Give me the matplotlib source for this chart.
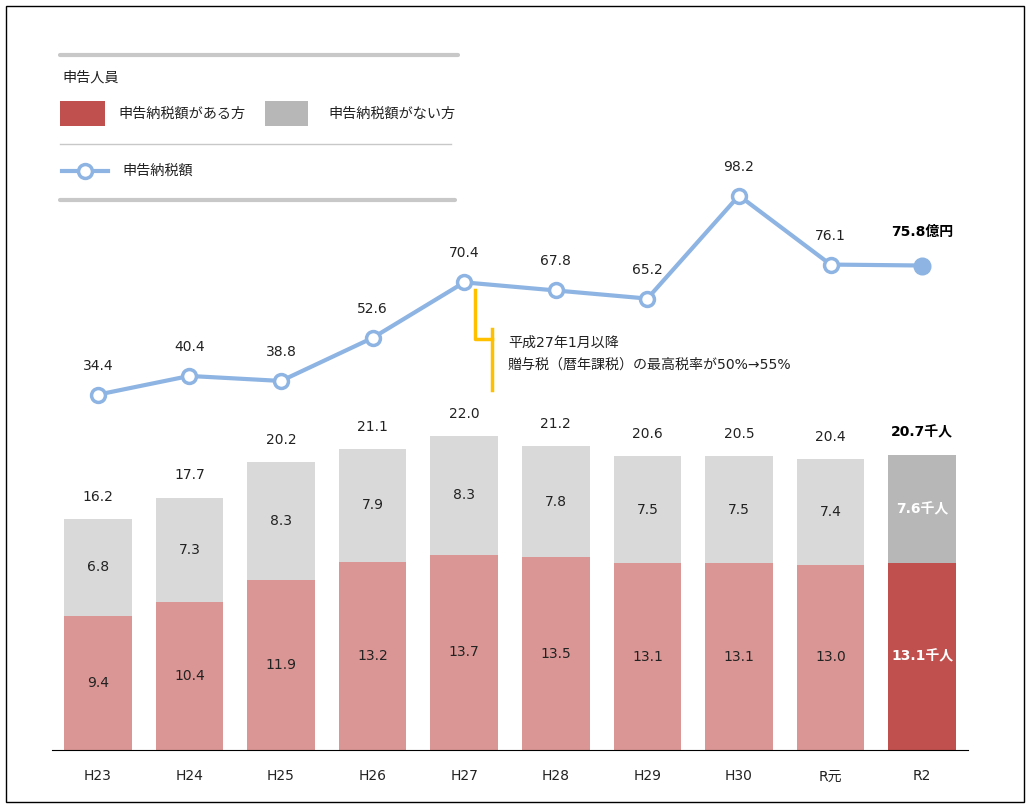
import matplotlib
matplotlib.use("Agg")
import matplotlib.pyplot as plt
from matplotlib.lines import Line2D
from matplotlib.patches import Rectangle
import numpy as np

# DejaVu for latin/digits (Verdana-like), CJK fallback for Japanese
plt.rcParams['font.family'] = ['DejaVu Sans', 'Noto Sans CJK JP']

# --- data -------------------------------------------------------------
years = ["H23", "H24", "H25", "H26", "H27", "H28", "H29", "H30", "R元", "R2"]
with_tax = [9.4, 10.4, 11.9, 13.2, 13.7, 13.5, 13.1, 13.1, 13.0, 13.1]
without_tax = [6.8, 7.3, 8.3, 7.9, 8.3, 7.8, 7.5, 7.5, 7.4, 7.6]
totals = [16.2, 17.7, 20.2, 21.1, 22.0, 21.2, 20.6, 20.5, 20.4, 20.7]
tax_amount = [34.4, 40.4, 38.8, 52.6, 70.4, 67.8, 65.2, 98.2, 76.1, 75.8]

RED_LIGHT = "#D99694"
RED = "#C0504D"
GRAY_LIGHT = "#D9D9D9"
GRAY = "#B7B7B7"
BLUE = "#8DB4E2"
YELLOW = "#FFC000"
TXT = "#222222"

W, H = 1030, 809
fig = plt.figure(figsize=(W / 100, H / 100), dpi=100)


def px(x, y):
    # pixel (from top-left) -> figure fraction
    return x / W, 1 - y / H


# outer frame
fig.add_artist(Rectangle(px(6, 802), 1018 / W, 796 / H, transform=fig.transFigure,
                         fill=False, edgecolor="black", linewidth=1))

# bar axes: x from 52 to 968 px, baseline 750 px, top 40 px
left, bottom = px(52, 750)
ax = fig.add_axes([left, bottom, (968 - 52) / W, (750 - 40) / H])
x = np.arange(len(years))
n = len(years)
c_with = [RED_LIGHT] * (n - 1) + [RED]
c_without = [GRAY_LIGHT] * (n - 1) + [GRAY]
wt = np.array(with_tax)
wo = np.array(without_tax)
ax.bar(x, wt, 0.74, color=c_with)
ax.bar(x, wo, 0.74, bottom=wt, color=c_without)
ax.set_xlim(-0.5, 9.5)
ax.set_ylim(0, (750 - 40) / 14.26)

for i in range(n):
    if i == n - 1:
        ax.text(i, wt[i] / 2, f"{with_tax[i]:.1f}千人", ha="center", va="center",
                color="white", fontsize=10, fontweight="bold")
        ax.text(i, wt[i] + wo[i] / 2, f"{without_tax[i]:.1f}千人", ha="center",
                va="center", color="white", fontsize=10, fontweight="bold")
        ax.text(i, wt[i] + wo[i] + 1.55, f"{totals[i]:.1f}千人", ha="center",
                va="center", color="black", fontsize=10, fontweight="bold")
    else:
        ax.text(i, wt[i] / 2, f"{with_tax[i]:.1f}", ha="center", va="center",
                color=TXT, fontsize=10)
        ax.text(i, wt[i] + wo[i] / 2, f"{without_tax[i]:.1f}", ha="center",
                va="center", color=TXT, fontsize=10)
        ax.text(i, wt[i] + wo[i] + 1.55, f"{totals[i]:.1f}", ha="center",
                va="center", color=TXT, fontsize=10)

for s in ["top", "right", "left"]:
    ax.spines[s].set_visible(False)
ax.spines["bottom"].set_color("black")
ax.spines["bottom"].set_linewidth(0.8)
ax.set_yticks([])
ax.set_xticks(x)
ax.set_xticklabels(years, fontsize=10, color=TXT)
ax.tick_params(axis="x", length=0, pad=14)

# line axes sharing the same x
ax2 = ax.twinx()
ax2.set_ylim((502 - 750) / 3.12, (502 - 40) / 3.12)
ax2.axis("off")
ax2.plot(x, tax_amount, color=BLUE, linewidth=3, zorder=3)
ax2.plot(x[:-1], tax_amount[:-1], "o", markersize=10, markerfacecolor="white",
         markeredgecolor=BLUE, markeredgewidth=2.5, zorder=4)
ax2.plot(x[-1:], tax_amount[-1:], "o", markersize=12, color=BLUE, zorder=4)
for i, v in enumerate(tax_amount):
    if i == n - 1:
        ax2.text(i, v + 10.6, f"{v:.1f}億円", ha="center", va="center",
                 fontsize=10, fontweight="bold", color="black")
    else:
        ax2.text(i, v + 9.3, f"{v:.1f}", ha="center", va="center",
                 fontsize=10, color=TXT)

# annotation bracket for H27
fig.add_artist(Line2D([475 / W, 475 / W, 492 / W], [1 - 290 / H, 1 - 339 / H, 1 - 339 / H],
                      transform=fig.transFigure, color=YELLOW, linewidth=2.5))
fig.add_artist(Line2D([492 / W, 492 / W], [1 - 329 / H, 1 - 390 / H],
                      transform=fig.transFigure, color=YELLOW, linewidth=2.5))
fig.text(*px(508, 343), "平成27年1月以降", fontsize=10.1, va="center", color=TXT)
fig.text(*px(508, 365), "贈与税（暦年課税）の最高税率が50%→55%", fontsize=10.1,
         va="center", color=TXT)

# legend box
fig.add_artist(Line2D([60 / W, 458 / W], [1 - 55 / H] * 2, transform=fig.transFigure,
                      color="#C8C8C8", linewidth=3, solid_capstyle="round"))
fig.text(*px(62, 78), "申告人員", fontsize=10.2, va="center", color=TXT)
fig.add_artist(Rectangle(px(60, 126), 45 / W, 25 / H, transform=fig.transFigure,
                         color=RED, linewidth=0))
fig.text(*px(118, 114), "申告納税額がある方", fontsize=10.2, va="center", color=TXT)
fig.add_artist(Rectangle(px(265, 126), 43 / W, 25 / H, transform=fig.transFigure,
                         color=GRAY, linewidth=0))
fig.text(*px(328, 114), "申告納税額がない方", fontsize=10.2, va="center", color=TXT)
fig.add_artist(Line2D([60 / W, 451 / W], [1 - 144 / H] * 2, transform=fig.transFigure,
                      color="#C8C8C8", linewidth=1))
fig.add_artist(Line2D([62 / W, 108 / W], [1 - 171 / H] * 2, transform=fig.transFigure,
                      color=BLUE, linewidth=3))
fig.add_artist(Line2D([85 / W], [1 - 171 / H], transform=fig.transFigure, marker="o",
                      markersize=10, markerfacecolor="white", markeredgecolor=BLUE,
                      markeredgewidth=2.5))
fig.text(*px(122, 171), "申告納税額", fontsize=10.2, va="center", color=TXT)
fig.add_artist(Line2D([60 / W, 455 / W], [1 - 200 / H] * 2, transform=fig.transFigure,
                      color="#C8C8C8", linewidth=3, solid_capstyle="round"))

fig.savefig("out.png", dpi=100)
